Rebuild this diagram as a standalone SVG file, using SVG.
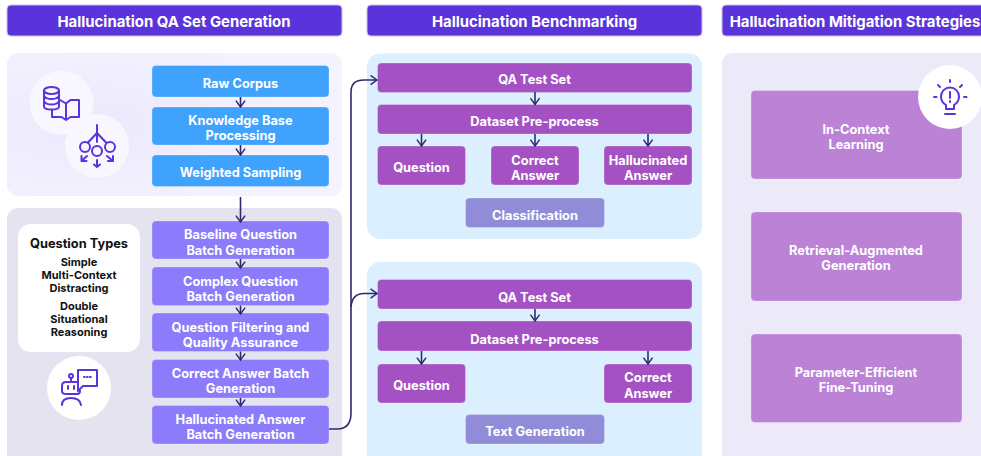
<svg xmlns="http://www.w3.org/2000/svg" width="981" height="456" viewBox="0 0 981 456">
<defs>
<marker id="ah" viewBox="0 0 12 12" refX="10" refY="6" markerWidth="11" markerHeight="11" markerUnits="userSpaceOnUse" orient="auto"><path d="M3 1 L10 6 L3 11" fill="none" stroke="#2f2a6b" stroke-width="1.6"/></marker>
<radialGradient id="g1" cx="0.25" cy="0.5" r="0.7"><stop offset="0" stop-color="#ece8fd"/><stop offset="1" stop-color="#f5f3fe"/></radialGradient>
</defs>
<style>
text{font-family:Inter,"Liberation Sans",sans-serif;font-weight:700;fill:#fff;text-anchor:middle;font-size:12.800px}
.hd{fill:#5a34da;stroke:#c9bdf2;stroke-width:1}
.hdt{font-size:14.900px;font-weight:700}
.blue{fill:#3fa2fd}
.vio{fill:#8c7bfa}
.mag{fill:#a452c3}
.cls{fill:#918cd8}
.mit{fill:#bb82d6}
.bx{stroke:#fff;stroke-opacity:.25;stroke-width:1}
.dk{fill:#111;font-size:11px}
.c{fill:none;stroke:#2f2a6b;stroke-width:1.6;marker-end:url(#ah)}
.ic{fill:none;stroke:#5a34da;stroke-width:2;stroke-linejoin:round;stroke-linecap:round}
</style>
<rect width="981" height="456" fill="#fff"/>
<g id="header-qa"><rect class="hd" x="7" y="5" width="335" height="31" rx="4"/><text class="hdt" x="174" y="27">Hallucination QA Set Generation</text></g>
<g id="header-bench"><rect class="hd" x="367" y="5" width="335" height="31" rx="4"/><text class="hdt" x="534.500" y="27">Hallucination Benchmarking</text></g>
<g id="header-mit"><rect class="hd" x="722" y="5" width="270" height="31" rx="4"/><text class="hdt" x="855" y="27">Hallucination Mitigation Strategies</text></g>

<g id="panels">
<rect x="7" y="53" width="335" height="143" rx="11" fill="url(#g1)"/>
<rect x="7" y="208" width="335" height="260" rx="11" fill="#e5e3f0"/>
<rect x="367" y="53.500" width="335" height="185.500" rx="13" fill="#dceffe"/>
<rect x="367" y="262" width="335" height="206" rx="13" fill="#dceffe"/>
<rect x="722" y="53" width="270" height="415" rx="11" fill="#ece9f9"/>
</g>

<g id="icon-db"><circle cx="61.500" cy="103" r="32" fill="#f8f6ff"/>
<g class="ic"><ellipse cx="51.500" cy="90.500" rx="7.500" ry="3.500"/><path d="M44 90.500V106.500Q44 109.500 51.500 109.500T59 106.500V90.500M44 96Q46 99 51.500 99T59 96M44 101.500Q46 104.500 51.500 104.500T59 101.500"/><path d="M52 110V117H61.500L66 120L70.500 117H79V100H70.500L66 103.500V120M66 103.500L60 100"/></g></g>
<g id="icon-tree"><circle cx="97" cy="146" r="32" fill="#f8f6ff"/>
<g class="ic"><path d="M97 125V142M97 133L88 142.500M97 133L106 142.500"/><circle cx="85" cy="147" r="5"/><circle cx="97" cy="151" r="5"/><circle cx="110" cy="147" r="5"/><path d="M87 156L81.500 161M81.500 156V161H86.500M97 160V167M94 164.500L97 167L100 164.500M107 156L113 161M113 156V161H108"/></g></g>

<g id="raw-corpus"><rect class="blue bx" x="152" y="65.500" width="177" height="31.500" rx="4"/><text x="240.500" y="88">Raw Corpus</text></g>
<g id="kb"><rect class="blue bx" x="152" y="107" width="177" height="38" rx="4"/><text x="240.500" y="125">Knowledge Base</text><text x="240.500" y="140">Processing</text></g>
<g id="ws"><rect class="blue bx" x="152" y="155" width="177" height="31.500" rx="4"/><text x="240.500" y="177">Weighted Sampling</text></g>

<g id="types"><rect x="18" y="224" width="122" height="128" rx="13" fill="#fff"/>
<text class="dk" x="79" y="248" style="font-size:12.800px">Question Types</text>
<text class="dk" x="79" y="266">Simple</text>
<text class="dk" x="79" y="279">Multi-Context</text>
<text class="dk" x="79" y="292">Distracting</text>
<text class="dk" x="79" y="310">Double</text>
<text class="dk" x="79" y="323">Situational</text>
<text class="dk" x="79" y="336">Reasoning</text></g>
<g id="icon-bot"><circle cx="79" cy="388" r="32" fill="#fff"/>
<g class="ic"><path d="M78 370H97V386H83L78 391Z"/><path d="M84 377H84.800M87 377H87.800M90 377H90.800"/><circle cx="71" cy="376" r="2"/><path d="M71 378V382M77 382H66Q62 382 62 386V391Q62 394 66 394H77Q80 394 80 391M62 405Q62 398 71 398T81 405"/><path d="M68 386V389M74 386V389"/></g></g>

<g id="q1"><rect class="vio bx" x="152" y="221" width="177" height="38" rx="4"/><text x="240.500" y="239">Baseline Question</text><text x="240.500" y="254.500">Batch Generation</text></g>
<g id="q2"><rect class="vio bx" x="152" y="267" width="177" height="38.500" rx="4"/><text x="240.500" y="285.500">Complex Question</text><text x="240.500" y="300.500">Batch Generation</text></g>
<g id="q3"><rect class="vio bx" x="152" y="313" width="177" height="38.500" rx="4"/><text x="240.500" y="331.500">Question Filtering and</text><text x="240.500" y="346.500">Quality Assurance</text></g>
<g id="q4"><rect class="vio bx" x="152" y="359.500" width="177" height="38.500" rx="4"/><text x="240.500" y="377.500">Correct Answer Batch</text><text x="240.500" y="393">Generation</text></g>
<g id="q5"><rect class="vio bx" x="152" y="405.500" width="177" height="38.500" rx="4"/><text x="240.500" y="423.500">Hallucinated Answer</text><text x="240.500" y="439">Batch Generation</text></g>

<g id="t1-qa"><rect class="mag bx" x="377.500" y="63" width="314.500" height="29.500" rx="4"/><text x="534.500" y="84">QA Test Set</text></g>
<g id="t1-dp"><rect class="mag bx" x="377.500" y="104.500" width="314.500" height="29.500" rx="4"/><text x="534.500" y="126">Dataset Pre-process</text></g>
<g id="t1-q"><rect class="mag bx" x="377.500" y="146" width="88" height="39" rx="4"/><text x="421.500" y="172">Question</text></g>
<g id="t1-c"><rect class="mag bx" x="491" y="146" width="88" height="39" rx="4"/><text x="535" y="165">Correct</text><text x="535" y="180">Answer</text></g>
<g id="t1-h"><rect class="mag bx" x="604" y="146" width="88" height="39" rx="4"/><text x="648" y="165">Hallucinated</text><text x="648" y="180">Answer</text></g>
<g id="t1-cls"><rect class="cls bx" x="465.500" y="198" width="139" height="29.500" rx="4"/><text x="535" y="220">Classification</text></g>

<g id="t2-qa"><rect class="mag bx" x="377.500" y="279.500" width="314.500" height="29.500" rx="4"/><text x="534.500" y="302">QA Test Set</text></g>
<g id="t2-dp"><rect class="mag bx" x="377.500" y="321" width="314.500" height="30" rx="4"/><text x="534.500" y="344">Dataset Pre-process</text></g>
<g id="t2-q"><rect class="mag bx" x="377.500" y="364" width="88" height="39" rx="4"/><text x="421.500" y="390">Question</text></g>
<g id="t2-c"><rect class="mag bx" x="604" y="364" width="88" height="39" rx="4"/><text x="648" y="382">Correct</text><text x="648" y="398">Answer</text></g>
<g id="t2-gen"><rect class="cls bx" x="465.500" y="414.500" width="139" height="29.500" rx="4"/><text x="535" y="436">Text Generation</text></g>

<g id="m1"><rect class="mit bx" x="751" y="90.500" width="211" height="88.500" rx="4"/><text x="856" y="134">In-Context</text><text x="856" y="149">Learning</text></g>
<g id="m2"><rect class="mit bx" x="751" y="212" width="211" height="89" rx="4"/><text x="856" y="255">Retrieval-Augmented</text><text x="856" y="270">Generation</text></g>
<g id="m3"><rect class="mit bx" x="751" y="334" width="211" height="88.500" rx="4"/><text x="856" y="377">Parameter-Efficient</text><text x="856" y="392">Fine-Tuning</text></g>
<g id="icon-bulb"><circle cx="950" cy="97" r="32" fill="#fff"/>
<g class="ic"><path d="M950 80V82M938 85L940 87M962 85L960 87M934 97H936.500M964 97H966.500M945 114H955M950 92V98M950 101V102"/><path d="M946 109V105Q941 102 941 96.500A9 9 0 0 1 959 96.500Q959 102 954 105V109Z"/></g></g>

<g id="connectors">
<path class="c" d="M240.500 97V107"/><path class="c" d="M240.500 145V155"/>
<path class="c" d="M240.500 197V222"/>
<path class="c" d="M240.500 259V268"/><path class="c" d="M240.500 305.500V314"/><path class="c" d="M240.500 351.500V360"/><path class="c" d="M240.500 398V406"/>
<path class="c" d="M535 92V104.500"/><path class="c" d="M421.500 134V146"/><path class="c" d="M535 134V146"/><path class="c" d="M648 134V146"/>
<path class="c" d="M535 309V321"/><path class="c" d="M421.500 351V364"/><path class="c" d="M648 351V364"/>
<path class="c" d="M329 429H337Q351 429 351 413V92Q351 80 364 80H377"/>
<path class="c" d="M351 307Q352 293.500 364 293.500H377"/>
</g>
</svg>
